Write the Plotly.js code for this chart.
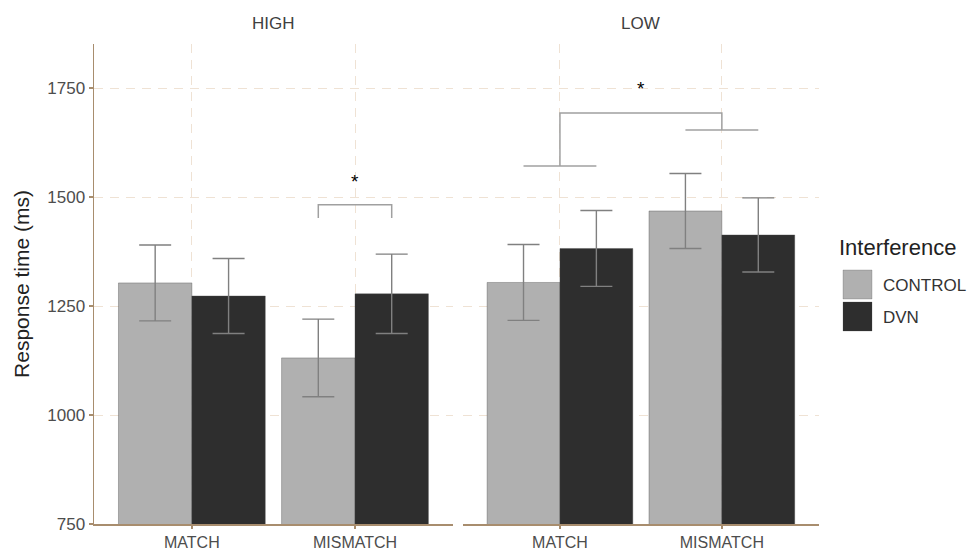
<!DOCTYPE html>
<html>
<head>
<meta charset="utf-8">
<script src="https://cdn.plot.ly/plotly-3.0.1.min.js"></script>
<style>html,body{margin:0;padding:0;background:#fff;}#chart{width:971px;height:552px;}</style>
</head>
<body>
<div id="chart"></div>
<script>
// ---- data ----
const categories = ['MATCH', 'MISMATCH'];
const panels = ['HIGH', 'LOW'];
const groups = ['CONTROL', 'DVN'];
const highControl = [1303, 1131];
const highControlErr = [87, 89];
const highDvn = [1273, 1278];
const highDvnErr = [86, 91];
const lowControl = [1304, 1468];
const lowControlErr = [87, 86];
const lowDvn = [1382, 1413];
const lowDvnErr = [87, 85];
const yTicks = [750, 1000, 1250, 1500, 1750];
// significance brackets (values in ms)
const highBracket = {top: 1482, leg: 1452, star: 1535};
const lowBracket = {top: 1693, legLeft: 1571, legRight: 1654, star: 1749};

// ---- styles ----
const colControl = '#b0b0b0';
const colDvn = '#2e2e2e';
const axisCol = '#a88d6e';
const gridCol = '#efe2d4';
const errCol = '#808080';
const bracketCol = '#a0a0a0';
const font = 'Liberation Sans, Arial, sans-serif';

const W = 971, H = 552;
const M = {l: 94, r: 152, t: 44, b: 28};
const pw = W - M.l - M.r, ph = H - M.t - M.b;
const px = v => (v - M.l) / pw;
const py = v => (H - M.b - v) / ph;

function barTrace(name, y, err, color, xa, ya) {
  return {
    type: 'bar', name: name, x: categories, y: y,
    xaxis: xa, yaxis: ya, showlegend: false,
    marker: {color: color, line: {color: 'rgba(70,70,70,0.6)', width: 0.6}},
    error_y: {type: 'data', array: err, visible: true, color: errCol, thickness: 1.4, width: 16},
    hoverinfo: 'skip'
  };
}

const data = [
  barTrace(groups[0], highControl, highControlErr, colControl, 'x', 'y'),
  barTrace(groups[1], highDvn, highDvnErr, colDvn, 'x', 'y'),
  barTrace(groups[0], lowControl, lowControlErr, colControl, 'x2', 'y2'),
  barTrace(groups[1], lowDvn, lowDvnErr, colDvn, 'x2', 'y2')
];

const half = 0.225;
const lineStyle = {color: bracketCol, width: 1.5};
const shapes = [
  // HIGH bracket
  {type: 'path', xref: 'x', yref: 'y',
   path: `M ${1 - half},${highBracket.leg} L ${1 - half},${highBracket.top} L ${1 + half},${highBracket.top} L ${1 + half},${highBracket.leg}`,
   line: lineStyle},
  // LOW bracket
  {type: 'path', xref: 'x2', yref: 'y2',
   path: `M 0,${lowBracket.legLeft} L 0,${lowBracket.top} L 1,${lowBracket.top} L 1,${lowBracket.legRight}`,
   line: lineStyle},
  {type: 'line', xref: 'x2', yref: 'y2', x0: -half, x1: half, y0: lowBracket.legLeft, y1: lowBracket.legLeft, line: lineStyle},
  {type: 'line', xref: 'x2', yref: 'y2', x0: 1 - half, x1: 1 + half, y0: lowBracket.legRight, y1: lowBracket.legRight, line: lineStyle},
  // legend keys
  {type: 'rect', xref: 'paper', yref: 'paper', x0: px(843), x1: px(872), y0: py(299), y1: py(270),
   fillcolor: colControl, line: {color: 'rgba(70,70,70,0.4)', width: 0.6}},
  {type: 'rect', xref: 'paper', yref: 'paper', x0: px(843), x1: px(872), y0: py(331), y1: py(302),
   fillcolor: colDvn, line: {color: 'rgba(70,70,70,0.4)', width: 0.6}}
];

const annotations = [
  {text: panels[0], xref: 'x domain', x: 0.5, yref: 'paper', y: py(23), yanchor: 'middle', showarrow: false,
   font: {family: font, size: 17, color: '#404040'}},
  {text: panels[1], xref: 'x2 domain', x: 0.5, yref: 'paper', y: py(23), yanchor: 'middle', showarrow: false,
   font: {family: font, size: 17, color: '#404040'}},
  {text: '*', xref: 'x', x: 1, yref: 'y', y: highBracket.star, showarrow: false, yanchor: 'middle',
   font: {family: font, size: 19, color: '#000'}},
  {text: '*', xref: 'x2', x: 0.5, yref: 'y2', y: lowBracket.star, showarrow: false, yanchor: 'middle',
   font: {family: font, size: 19, color: '#000'}},
  {text: 'Interference', xref: 'paper', yref: 'paper', x: px(838), y: py(247), xanchor: 'left', yanchor: 'middle',
   showarrow: false, borderpad: 0, font: {family: font, size: 22, color: '#222'}},
  {text: groups[0], xref: 'paper', yref: 'paper', x: px(882), y: py(285), xanchor: 'left', yanchor: 'middle',
   showarrow: false, borderpad: 0, font: {family: font, size: 17, color: '#333'}},
  {text: groups[1], xref: 'paper', yref: 'paper', x: px(882), y: py(317), xanchor: 'left', yanchor: 'middle',
   showarrow: false, borderpad: 0, font: {family: font, size: 17, color: '#333'}}
];

const xCommon = {
  type: 'category', range: [-0.6, 1.6], fixedrange: true,
  showline: true, linecolor: axisCol, linewidth: 1.5,
  ticks: 'outside', ticklen: 3, tickcolor: axisCol, tickwidth: 1.5,
  showgrid: true, gridcolor: gridCol, gridwidth: 1, griddash: '9px,7px',
  zeroline: false, tickfont: {family: font, size: 16, color: '#4d4d4d'}
};
const yCommon = {
  range: [750, 1851], fixedrange: true, tickvals: yTicks,
  showgrid: true, gridcolor: gridCol, gridwidth: 1, griddash: '9px,7px',
  zeroline: false
};

const layout = {
  width: W, height: H,
  margin: M,
  paper_bgcolor: '#fff', plot_bgcolor: '#fff',
  barmode: 'group', bargap: 0.1, bargroupgap: 0,
  showlegend: false,
  font: {family: font},
  xaxis: Object.assign({}, xCommon, {domain: [0, 0.495], anchor: 'y'}),
  xaxis2: Object.assign({}, xCommon, {domain: [0.5087, 1], anchor: 'y2'}),
  yaxis: Object.assign({}, yCommon, {
    anchor: 'x', showline: true, linecolor: axisCol, linewidth: 1.5,
    ticks: 'outside', ticklen: 4, tickcolor: axisCol, tickwidth: 1.5,
    tickfont: {family: font, size: 17, color: '#4d4d4d'},
    title: {text: 'Response time (ms)', font: {family: font, size: 21, color: '#222'}, standoff: 12}
  }),
  yaxis2: Object.assign({}, yCommon, {anchor: 'x2', matches: 'y', showline: false, showticklabels: false, ticks: ''}),
  shapes: shapes,
  annotations: annotations
};

Plotly.newPlot('chart', data, layout, {staticPlot: true, displayModeBar: false});
</script>
</body>
</html>
